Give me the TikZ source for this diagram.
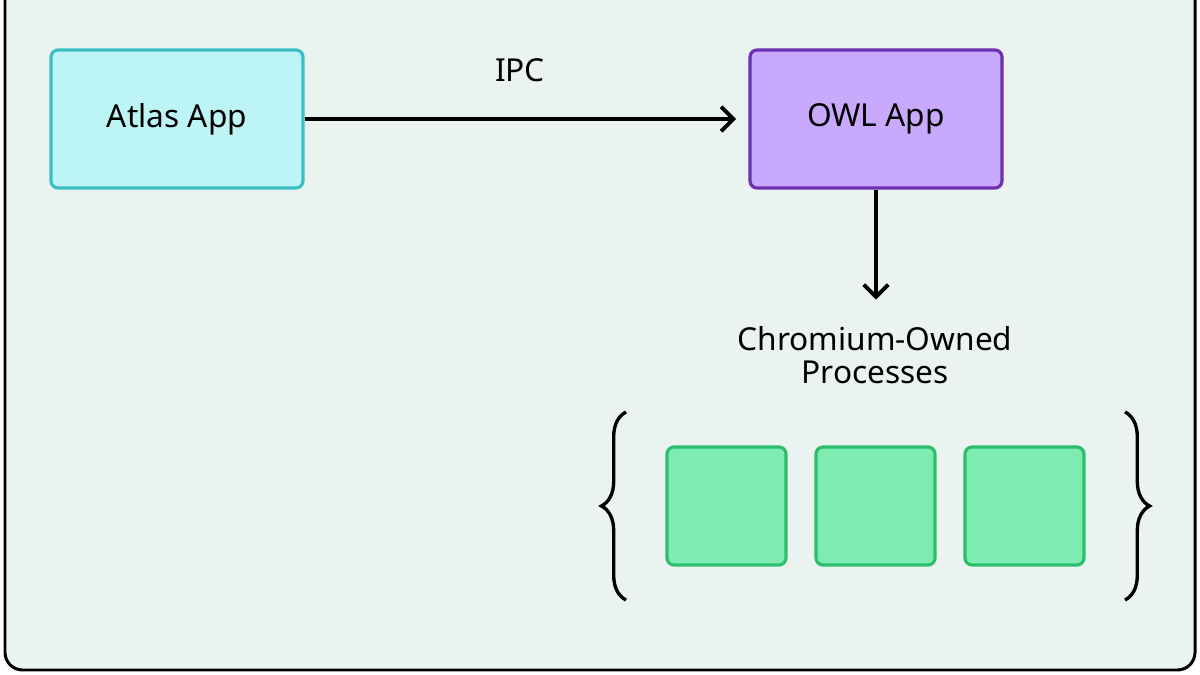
\documentclass[tikz,border=0pt]{standalone}
\usepackage{fontspec}
\setmainfont{Noto Sans}
\usetikzlibrary{arrows.meta, decorations.pathreplacing}
\definecolor{bgc}{HTML}{EAF3EF}
\definecolor{atlasfill}{HTML}{BDF5F7}
\definecolor{atlasline}{HTML}{3BBFC5}
\definecolor{owlfill}{HTML}{C9A9FC}
\definecolor{owlline}{HTML}{6B2FB0}
\definecolor{procfill}{HTML}{7EECB1}
\definecolor{procline}{HTML}{2DBE6C}
\begin{document}
\begin{tikzpicture}[x=0.02cm, y=-0.02cm,
    app/.style={rectangle, rounded corners=4pt, line width=1.8pt, minimum width=252*0.02cm, minimum height=138*0.02cm, font=\fontsize{18}{21}\selectfont},
    proc/.style={rectangle, rounded corners=4pt, line width=1.8pt, draw=procline, fill=procfill, minimum width=119*0.02cm, minimum height=118*0.02cm},
    conn/.style={-{Straight Barb[length=7pt, width=14pt]}, shorten >=7pt},
    lbl/.style={font=\fontsize{18}{21}\selectfont, align=center},
    brc/.style={decorate, decoration={brace, amplitude=14pt, aspect=0.5}, line width=1.9pt}
  ]
  \useasboundingbox (0,0) rectangle (1200,675);
  \draw[fill=bgc, line width=1.7pt, rounded corners=10pt] (5,-20) rectangle (1195,670);

  \node[app, draw=atlasline, fill=atlasfill] (atlas) at (177,119) {Atlas App};
  \node[app, draw=owlline, fill=owlfill] (owl) at (876,119) {OWL App};
  \draw[line width=2.2pt, conn] (atlas.east) -- (owl.west);
  \node[lbl] (ipc) at (520,70) {IPC};

  \coordinate (chrtop) at (876,312);
  \draw[line width=2.2pt, conn] (owl.south) -- (chrtop);
  \node[lbl, inner sep=0pt] (chr) at (875,355) {Chromium-Owned\\[-2pt]Processes};

  \node[proc] (p1) at (726.5,506) {};
  \node[proc] (p2) at (875.5,506) {};
  \node[proc] (p3) at (1024.5,506) {};

  \coordinate (lb) at (626,600);
  \coordinate (lt) at (626,412);
  \coordinate (rt) at (1125,412);
  \coordinate (rb) at (1125,600);
  \draw[brc] (lb) -- (lt);
  \draw[brc] (rt) -- (rb);
\end{tikzpicture}
\end{document}
